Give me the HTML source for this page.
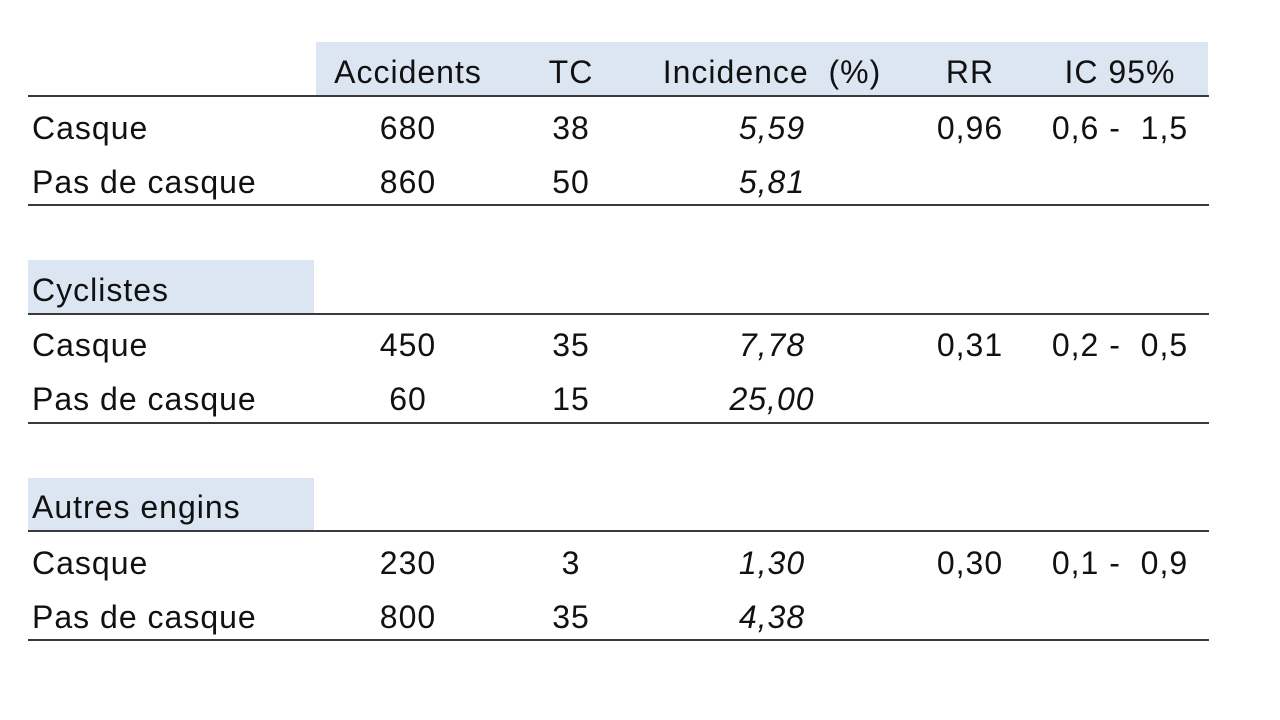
<!DOCTYPE html>
<html><head><meta charset="utf-8"><style>
body{margin:0;width:1280px;height:720px;background:#fff;position:relative;overflow:hidden;font-family:"Liberation Sans",sans-serif;color:#111}
.band{position:absolute;background:#dce6f2}
.line{position:absolute;left:28px;width:1181px;height:2px;background:#3a3a3a}
.t{position:absolute;font-size:32px;letter-spacing:1px;line-height:36px;white-space:pre;transform:translateX(-50%)}
.l{position:absolute;font-size:32px;letter-spacing:1px;line-height:36px;white-space:pre;left:32px}
.i{font-style:italic}
</style></head><body>
<div class="band" style="left:316px;top:42px;width:892px;height:54px"></div>
<div class="band" style="left:28px;top:260px;width:286px;height:53px"></div>
<div class="band" style="left:28px;top:478px;width:286px;height:52px"></div>
<div class="line" style="top:95px"></div>
<div class="line" style="top:204px"></div>
<div class="line" style="top:313px"></div>
<div class="line" style="top:422px"></div>
<div class="line" style="top:530px"></div>
<div class="line" style="top:639px"></div>
<div id="tbl"></div>
<script>
const headers=["Accidents","TC","Incidence  (%)","RR","IC 95%"];
const colX=[408,571,772,970,1120];
const rows=[
 {y:128,label:"Casque",v:["680","38","5,59","0,96","0,6 -  1,5"]},
 {y:182,label:"Pas de casque",v:["860","50","5,81","",""]},
 {y:290,label:"Cyclistes",v:["","","","",""]},
 {y:345,label:"Casque",v:["450","35","7,78","0,31","0,2 -  0,5"]},
 {y:399,label:"Pas de casque",v:["60","15","25,00","",""]},
 {y:507,label:"Autres engins",v:["","","","",""]},
 {y:563,label:"Casque",v:["230","3","1,30","0,30","0,1 -  0,9"]},
 {y:617,label:"Pas de casque",v:["800","35","4,38","",""]}
];
const tbl=document.getElementById('tbl');
headers.forEach((h,j)=>{const d=document.createElement('div');d.className='t';


d.style.left=colX[j]+'px';d.style.top=(72-18)+'px';d.textContent=h;tbl.appendChild(d);});
rows.forEach(r=>{const l=document.createElement('div');l.className='l';


l.style.top=(r.y-18)+'px';l.textContent=r.label;tbl.appendChild(l);
r.v.forEach((v,j)=>{if(!v)return;const d=document.createElement('div');d.className='t'+(j==2?' i':'');


d.style.left=colX[j]+'px';d.style.top=(r.y-18)+'px';d.textContent=v;tbl.appendChild(d);});});
</script>
</body></html>
